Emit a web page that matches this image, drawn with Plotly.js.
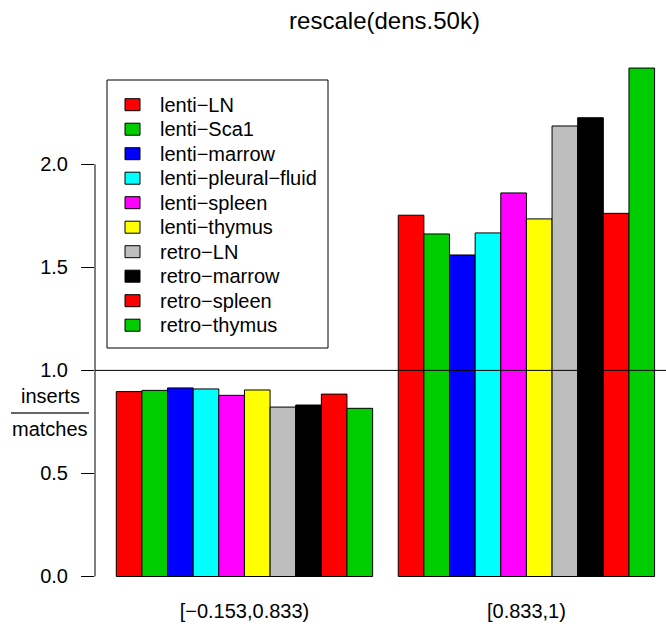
<!DOCTYPE html>
<html>
<head>
<meta charset="utf-8">
<script src="https://cdn.plot.ly/plotly-3.0.1.min.js"></script>
<style>
  html, body { margin: 0; padding: 0; background: #ffffff; }
  #chart { width: 666px; height: 630px; }
</style>
</head>
<body>
<div id="chart"></div>
<script>
// Density bins on the x axis
const bins = ['[\u22120.153,0.833)', '[0.833,1)'];

// Sample series (one bar per series inside each bin)
const seriesNames = [
  'lenti\u2212LN', 'lenti\u2212Sca1', 'lenti\u2212marrow', 'lenti\u2212pleural\u2212fluid',
  'lenti\u2212spleen', 'lenti\u2212thymus', 'retro\u2212LN', 'retro\u2212marrow',
  'retro\u2212spleen', 'retro\u2212thymus'
];
const seriesColors = [
  '#FF0000', '#00CD00', '#0000FF', '#00FFFF', '#FF00FF',
  '#FFFF00', '#BEBEBE', '#000000', '#FF0000', '#00CD00'
];

// inserts / matches ratio for each series, per bin
const lowBinRatio  = [0.897, 0.903, 0.915, 0.910, 0.879, 0.905, 0.822, 0.832, 0.885, 0.816];
const highBinRatio = [1.753, 1.662, 1.560, 1.667, 1.861, 1.735, 2.186, 2.226, 1.762, 2.467];

// Y axis ticks
const yTickVals = [0, 0.5, 1, 1.5, 2];
const yTickText = ['0.0', '0.5', '1.0', '1.5', '2.0'];

const FONT = 'Liberation Sans, Arial, Helvetica, sans-serif';

// Plot-area geometry (pixels) used to place the hand-drawn legend and label
const W = 666, H = 630;
const M = { l: 95, r: 0, t: 48, b: 33 };
const plotW = W - M.l - M.r, plotH = H - M.t - M.b;
const px = x => (x - M.l) / plotW;          // pixel x -> paper x
const py = y => (H - M.b - y) / plotH;      // pixel y -> paper y

const traces = seriesNames.map((name, i) => ({
  type: 'bar',
  name: name,
  x: bins,
  y: [lowBinRatio[i], highBinRatio[i]],
  marker: { color: seriesColors[i], line: { color: '#000000', width: 1 } },
  hoverinfo: 'name+y'
}));

const shapes = [
  // reference line at ratio 1
  { type: 'line', xref: 'paper', yref: 'y', x0: 0, x1: 1, y0: 1, y1: 1,
    line: { color: '#000000', width: 1 } },
  // y axis spine spanning the tick range only
  { type: 'line', xref: 'paper', yref: 'y', x0: 0, x1: 0, y0: yTickVals[0], y1: yTickVals[yTickVals.length - 1],
    line: { color: '#000000', width: 1 } },
  // fraction bar of the y label
  { type: 'line', xref: 'paper', yref: 'paper', x0: px(11), x1: px(89), y0: py(413), y1: py(413),
    line: { color: '#333333', width: 1.3 } },
  // legend frame
  { type: 'rect', xref: 'paper', yref: 'paper', x0: px(107), x1: px(328), y0: py(80), y1: py(348),
    line: { color: '#000000', width: 1 }, fillcolor: 'rgba(255,255,255,0)' }
];

const annotations = [
  { xref: 'paper', yref: 'paper', x: px(50), y: py(396), text: 'inserts', showarrow: false,
    xanchor: 'center', yanchor: 'middle', font: { family: FONT, size: 20, color: '#000000' } },
  { xref: 'paper', yref: 'paper', x: px(50), y: py(429), text: 'matches', showarrow: false,
    xanchor: 'center', yanchor: 'middle', font: { family: FONT, size: 20, color: '#000000' } }
];

// Legend: one swatch + label per series
const legendTop = 104.7, legendStep = 24.5;
seriesNames.forEach((name, i) => {
  const cy = legendTop + i * legendStep;
  shapes.push({
    type: 'rect', xref: 'paper', yref: 'paper',
    x0: px(125), x1: px(140), y0: py(cy + 6), y1: py(cy - 6),
    fillcolor: seriesColors[i], line: { color: '#000000', width: 1 }
  });
  annotations.push({
    xref: 'paper', yref: 'paper', x: px(158), y: py(cy), text: name, showarrow: false,
    xanchor: 'left', yanchor: 'middle', font: { family: FONT, size: 20, color: '#000000' }
  });
});

const layout = {
  width: W, height: H,
  margin: M,
  paper_bgcolor: '#ffffff', plot_bgcolor: '#ffffff',
  font: { family: FONT, size: 20, color: '#000000' },
  showlegend: false,
  barmode: 'group',
  bargap: 1 / 11,
  bargroupgap: 0,
  title: {
    text: 'rescale(dens.50k)',
    font: { family: FONT, size: 24, color: '#000000' },
    xref: 'paper', x: px(384.5), xanchor: 'center',
    yref: 'container', y: 1 - 21 / H, yanchor: 'middle'
  },
  xaxis: {
    type: 'category',
    range: [-0.530, 1.495],
    showline: false, showgrid: false, zeroline: false,
    ticks: '',
    tickfont: { family: FONT, size: 20, color: '#000000' },
    fixedrange: true
  },
  yaxis: {
    range: [-0.0995, 2.5643],
    showline: false, showgrid: false, zeroline: false,
    tickmode: 'array', tickvals: yTickVals, ticktext: yTickText,
    ticks: 'outside', ticklen: 13, tickwidth: 1, tickcolor: '#000000',
    ticklabelstandoff: 9,
    tickfont: { family: FONT, size: 20, color: '#000000' },
    fixedrange: true
  },
  shapes: shapes,
  annotations: annotations
};

Plotly.newPlot('chart', traces, layout, { displayModeBar: false, staticPlot: true });
</script>
</body>
</html>
